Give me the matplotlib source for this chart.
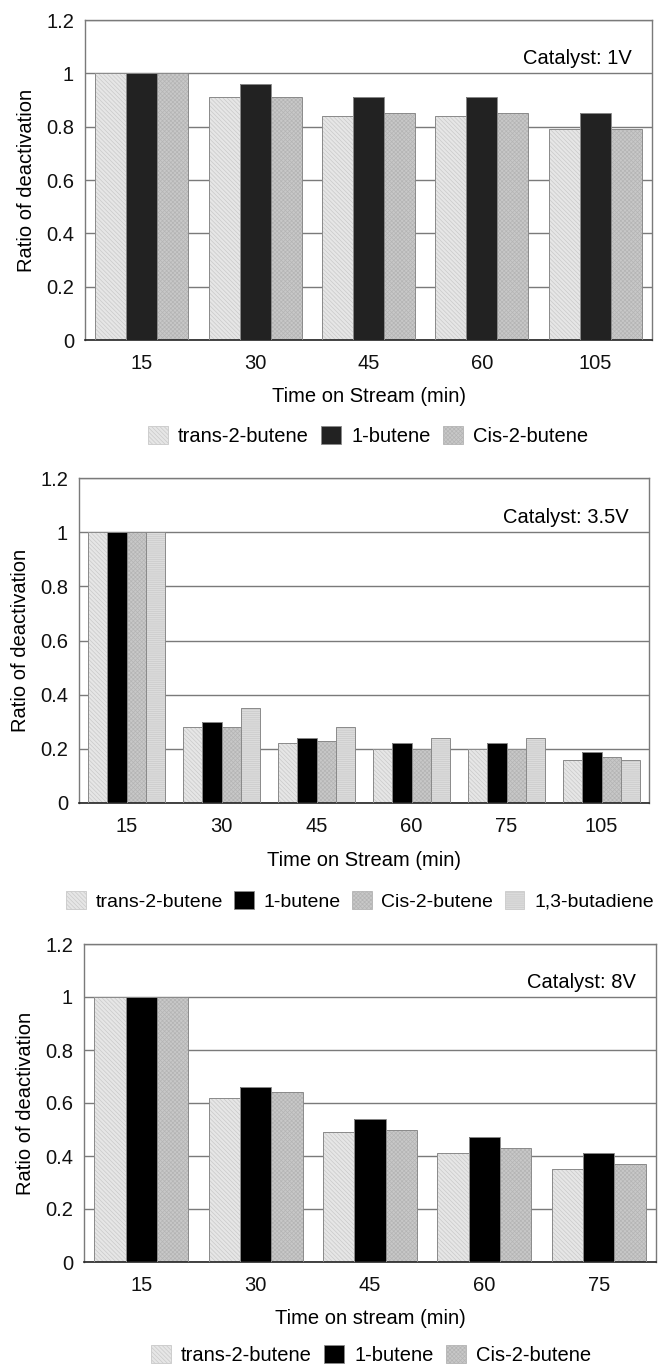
import numpy as np
import matplotlib
matplotlib.use('Agg')
import matplotlib.pyplot as plt
from matplotlib.patches import Patch

plt.rcParams['font.family'] = ['Liberation Sans', 'DejaVu Sans']
plt.rcParams['hatch.linewidth'] = 0.5

# ---- data ----
times_1v = ['15', '30', '45', '60', '105']
trans_1v = [1.0, 0.91, 0.84, 0.84, 0.79]
but1_1v = [1.0, 0.96, 0.91, 0.91, 0.85]
cis_1v = [1.0, 0.91, 0.85, 0.85, 0.79]

times_35v = ['15', '30', '45', '60', '75', '105']
trans_35v = [1.0, 0.28, 0.22, 0.20, 0.20, 0.16]
but1_35v = [1.0, 0.30, 0.24, 0.22, 0.22, 0.19]
cis_35v = [1.0, 0.28, 0.23, 0.20, 0.20, 0.17]
butadiene_35v = [1.0, 0.35, 0.28, 0.24, 0.24, 0.16]

times_8v = ['15', '30', '45', '60', '75']
trans_8v = [1.0, 0.62, 0.49, 0.41, 0.35]
but1_8v = [1.0, 0.66, 0.54, 0.47, 0.41]
cis_8v = [1.0, 0.64, 0.50, 0.43, 0.37]

names = ['trans-2-butene', '1-butene', 'Cis-2-butene', '1,3-butadiene']

# face colour, hatch, hatch colour
styles = {
    'trans-2-butene': ('#e6e6e6', '\\\\\\\\\\\\\\\\', '#c9c9c9'),
    '1-butene': ('#000000', None, '#000000'),
    'Cis-2-butene': ('#c8c8c8', 'xxxxxxxx', '#b4b4b4'),
    '1,3-butadiene': ('#dcdcdc', '--------', '#cacaca'),
}

W, H = 662, 1368
fig = plt.figure(figsize=(W / 100, H / 100), dpi=100)
FS = 14.5


def px_axes(left, right, top, bottom):
    return fig.add_axes([left / W, 1 - bottom / H, (right - left) / W, (bottom - top) / H])


def panel(ax, cats, series, labels, dark, catalyst, xlabel, xl_y, leg_y, leg_x, leg_fs=FS):
    n = len(series)
    x = np.arange(len(cats))
    group = 0.82
    w = group / n
    handles = []
    for i, (vals, name) in enumerate(zip(series, labels)):
        fc, hatch, hc = styles[name]
        if name == '1-butene':
            fc = dark
            hc = dark
        pos = x - group / 2 + w * (i + 0.5)
        ax.bar(pos, vals, w, color=fc, hatch=hatch, edgecolor=hc, linewidth=0, zorder=2)
        ax.bar(pos, vals, w, facecolor='none', edgecolor='#8a8a8a', linewidth=0.7, zorder=3)
        handles.append(Patch(facecolor=fc, hatch=hatch, edgecolor=hc if hatch else '#8a8a8a', linewidth=0.6))
    ax.set_xlim(-0.5, len(cats) - 0.5)
    ax.set_ylim(0, 1.2)
    ax.set_yticks([0, 0.2, 0.4, 0.6, 0.8, 1.0, 1.2])
    ax.set_yticklabels(['0', '0.2', '0.4', '0.6', '0.8', '1', '1.2'])
    ax.set_xticks(x)
    ax.set_xticklabels(cats)
    ax.tick_params(axis='both', length=0, labelsize=FS, colors='#111111')
    ax.tick_params(axis='y', pad=8)
    ax.tick_params(axis='x', pad=10)
    ax.yaxis.grid(True, color='#7a7a7a', linewidth=1.0, zorder=0)
    ax.set_axisbelow(True)
    for s in ['left', 'right', 'top']:
        ax.spines[s].set_color('#7a7a7a')
        ax.spines[s].set_linewidth(1.0)
    ax.spines['bottom'].set_color('#222222')
    ax.spines['bottom'].set_linewidth(1.2)
    ax.set_ylabel('Ratio of deactivation', fontsize=FS, labelpad=7)
    ax.text(0.965, 0.88, catalyst, transform=ax.transAxes, ha='right', va='center', fontsize=FS)
    bb = ax.get_position()
    fig.text((bb.x0 + bb.x1) / 2, 1 - xl_y / H, xlabel, ha='center', va='center', fontsize=FS)
    fig.legend(handles, labels, loc='center', bbox_to_anchor=(leg_x / W, 1 - leg_y / H),
               ncol=len(labels), frameon=False, fontsize=leg_fs, handlelength=1.0, handleheight=1.0,
               handletextpad=0.5, columnspacing=0.6, borderaxespad=0)


ax1 = px_axes(85, 652, 20, 340)
panel(ax1, times_1v, [trans_1v, but1_1v, cis_1v], names[:3], '#222222',
      'Catalyst: 1V', 'Time on Stream (min)', 396, 436, 368)

ax2 = px_axes(79, 649, 478, 803)
panel(ax2, times_35v, [trans_35v, but1_35v, cis_35v, butadiene_35v], names, '#000000',
      'Catalyst: 3.5V', 'Time on Stream (min)', 861, 901, 360, leg_fs=14)

ax3 = px_axes(84, 656, 944, 1262)
panel(ax3, times_8v, [trans_8v, but1_8v, cis_8v], names[:3], '#000000',
      'Catalyst: 8V', 'Time on stream (min)', 1319, 1355, 371)

fig.savefig('out.png', dpi=100)
